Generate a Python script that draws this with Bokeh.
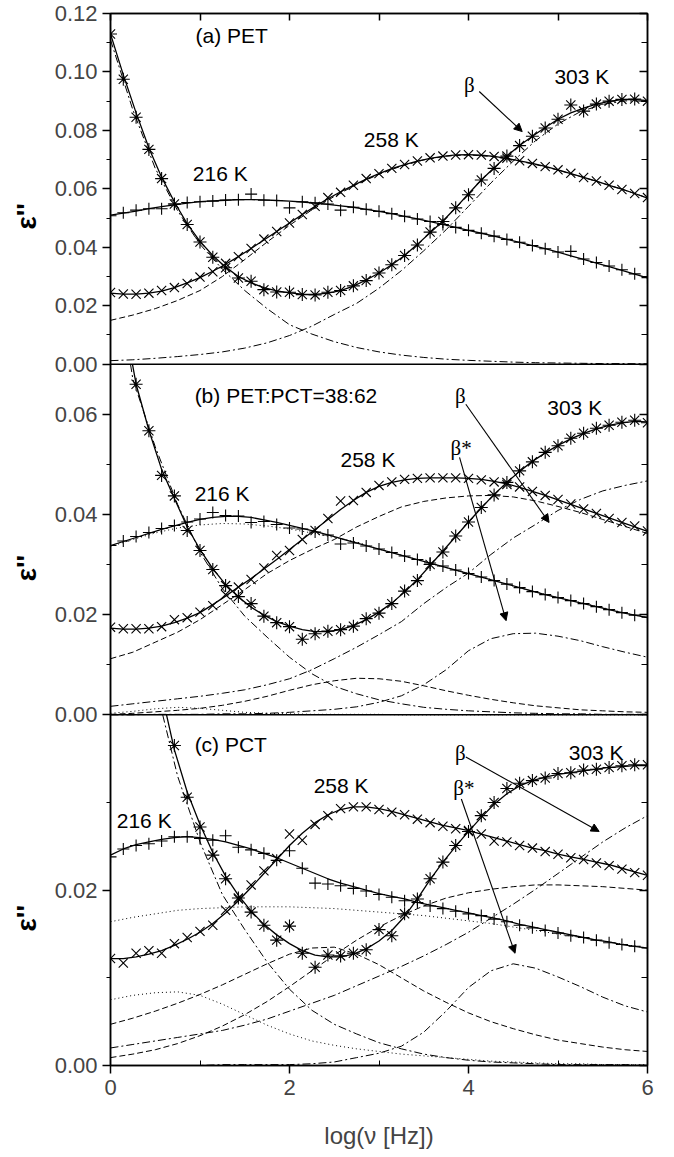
import math
from bokeh.plotting import figure
from bokeh.layouts import row
from bokeh.core.properties import value
from bokeh.models import (Range1d, LinearAxis, FixedTicker, CustomJSTickFormatter,
                          Span, Label, Arrow, NormalHead)
from bokeh.embed import file_html
from bokeh.resources import INLINE

# ---------------- data ----------------
x_pts = [0.0, 0.143, 0.286, 0.429, 0.571, 0.714, 0.857, 1.0, 1.143, 1.286, 1.429, 1.571,
         1.714, 1.857, 2.0, 2.143, 2.286, 2.429, 2.571, 2.714, 2.857, 3.0, 3.143, 3.286,
         3.429, 3.571, 3.714, 3.857, 4.0, 4.143, 4.286, 4.429, 4.571, 4.714, 4.857, 5.0,
         5.143, 5.286, 5.429, 5.571, 5.714, 5.857, 6.0]
x_comp = [0.0, 0.25, 0.5, 0.75, 1.0, 1.25, 1.5, 1.75, 2.0, 2.25, 2.5, 2.75, 3.0, 3.25,
          3.5, 3.75, 4.0, 4.25, 4.5, 4.75, 5.0, 5.25, 5.5, 5.75, 6.0]

# panel (a) PET
a303_fit = [0.113, 0.099, 0.086, 0.074, 0.064, 0.0555, 0.048, 0.042, 0.0372, 0.0332, 0.030, 0.0278, 0.0262, 0.0251, 0.0244, 0.024, 0.0239, 0.0243, 0.0252, 0.0267, 0.0288, 0.0312, 0.034, 0.0372, 0.041, 0.045, 0.049, 0.0535, 0.0583, 0.063, 0.0672, 0.0712, 0.0748, 0.078, 0.081, 0.0838, 0.086, 0.0876, 0.089, 0.0899, 0.0905, 0.0906, 0.0902]
a303_pts = [0.113, 0.0975, 0.0845, 0.0735, 0.0635, 0.0548, 0.0478, 0.0418, 0.0366, 0.0330, 0.0295, 0.0284, 0.0255, 0.0247, 0.0246, 0.0238, 0.0237, 0.0246, 0.0252, 0.0268, 0.0286, 0.0312, 0.0340, 0.0372, 0.0408, 0.0452, 0.0488, 0.0535, 0.0580, 0.0630, 0.0670, 0.0712, 0.0748, 0.0780, 0.0808, 0.0838, 0.0887, 0.0866, 0.0890, 0.0900, 0.0906, 0.0907, 0.0900]
a258_fit = [0.0243, 0.0240, 0.0240, 0.0243, 0.0250, 0.0262, 0.0278, 0.0296, 0.0318, 0.0342, 0.0368, 0.0396, 0.0425, 0.0454, 0.0483, 0.0512, 0.0540, 0.0566, 0.0590, 0.0612, 0.0633, 0.0652, 0.0669, 0.0683, 0.0695, 0.0704, 0.0711, 0.0716, 0.0717, 0.0715, 0.0711, 0.0704, 0.0696, 0.0687, 0.0677, 0.0665, 0.0652, 0.0639, 0.0626, 0.0612, 0.0599, 0.0584, 0.0568]
a258_pts = [0.0245, 0.0240, 0.0239, 0.0243, 0.0252, 0.0262, 0.0276, 0.0298, 0.0316, 0.0345, 0.0368, 0.0396, 0.0428, 0.0454, 0.0483, 0.0512, 0.0540, 0.0570, 0.0588, 0.0612, 0.0635, 0.0652, 0.0670, 0.0683, 0.0695, 0.0706, 0.0712, 0.0716, 0.0717, 0.0716, 0.0711, 0.0705, 0.0696, 0.0687, 0.0676, 0.0665, 0.0653, 0.0639, 0.0627, 0.0612, 0.0598, 0.0584, 0.0570]
a216_fit = [0.0510, 0.0517, 0.0524, 0.0532, 0.0539, 0.0545, 0.0551, 0.0556, 0.0559, 0.0561, 0.0563, 0.0563, 0.0562, 0.0560, 0.0558, 0.0555, 0.0551, 0.0547, 0.0542, 0.0537, 0.0530, 0.0523, 0.0515, 0.0506, 0.0497, 0.0488, 0.0478, 0.0468, 0.0458, 0.0448, 0.0438, 0.0427, 0.0417, 0.0406, 0.0395, 0.0383, 0.0371, 0.0359, 0.0346, 0.0334, 0.0321, 0.0308, 0.0295]
a216_pts = [0.0508, 0.0518, 0.0527, 0.0532, 0.0532, 0.0548, 0.0553, 0.0556, 0.0558, 0.0562, 0.0563, 0.0582, 0.0561, 0.0560, 0.0535, 0.0556, 0.0552, 0.0548, 0.0527, 0.0537, 0.0530, 0.0523, 0.0515, 0.0506, 0.0497, 0.0488, 0.0478, 0.0468, 0.0458, 0.0448, 0.0438, 0.0427, 0.0417, 0.0406, 0.0395, 0.0384, 0.0386, 0.0360, 0.0348, 0.0336, 0.0323, 0.0309, 0.0296]
a_cond = [0.111, 0.087, 0.067, 0.0525, 0.041, 0.0325, 0.0252, 0.019, 0.0135, 0.0103, 0.0077, 0.0057, 0.0042, 0.0031, 0.0023, 0.0017, 0.0013, 0.0010, 0.0007, 0.0005, 0.0004, 0.0003, 0.0002, 0.0002, 0.0001]
a_beta303 = [0.0012, 0.0015, 0.0020, 0.0026, 0.0033, 0.0042, 0.0055, 0.0073, 0.0098, 0.0130, 0.0170, 0.0208, 0.0260, 0.0320, 0.0388, 0.0460, 0.0540, 0.0620, 0.0695, 0.0765, 0.0822, 0.0864, 0.0889, 0.0901, 0.0900]
a_beta258 = [0.0150, 0.0168, 0.0190, 0.0218, 0.0252, 0.0300, 0.0358, 0.0418, 0.0475, 0.0528, 0.0574, 0.0615, 0.0650, 0.0678, 0.0699, 0.0712, 0.0716, 0.0711, 0.0699, 0.0683, 0.0664, 0.0642, 0.0619, 0.0595, 0.0569]

# panel (b) PET:PCT=38:62
b303_fit = [0.095, 0.080, 0.066, 0.0568, 0.0490, 0.0432, 0.0375, 0.0330, 0.0292, 0.0260, 0.0235, 0.0215, 0.0199, 0.0186, 0.0177, 0.0170, 0.0166, 0.0166, 0.0170, 0.0178, 0.0190, 0.0205, 0.0223, 0.0245, 0.0270, 0.0298, 0.0327, 0.0356, 0.0385, 0.0413, 0.0440, 0.0464, 0.0486, 0.0506, 0.0523, 0.0538, 0.0551, 0.0562, 0.0571, 0.0578, 0.0583, 0.0586, 0.0585]
b303_pts = [0.095, 0.080, 0.066, 0.0567, 0.0478, 0.0437, 0.0368, 0.0328, 0.0290, 0.0258, 0.0236, 0.0222, 0.0197, 0.0184, 0.0176, 0.0151, 0.0162, 0.0167, 0.0170, 0.0177, 0.0192, 0.0203, 0.0222, 0.0247, 0.0268, 0.0300, 0.0325, 0.0357, 0.0385, 0.0414, 0.0439, 0.0464, 0.0487, 0.0505, 0.0524, 0.0537, 0.0552, 0.0562, 0.0572, 0.0578, 0.0584, 0.0588, 0.0583]
b258_fit = [0.0173, 0.0171, 0.0171, 0.0173, 0.0177, 0.0184, 0.0193, 0.0204, 0.0220, 0.0237, 0.0255, 0.0272, 0.0291, 0.0310, 0.0330, 0.0350, 0.0370, 0.0390, 0.0410, 0.0428, 0.0444, 0.0456, 0.0464, 0.0469, 0.0472, 0.0473, 0.0473, 0.0473, 0.0472, 0.0470, 0.0466, 0.0461, 0.0454, 0.0446, 0.0438, 0.0429, 0.0420, 0.0411, 0.0402, 0.0393, 0.0384, 0.0375, 0.0366]
b258_pts = [0.0175, 0.0172, 0.0172, 0.0172, 0.0176, 0.0190, 0.0194, 0.0205, 0.0218, 0.0240, 0.0255, 0.0270, 0.0293, 0.0318, 0.0328, 0.0350, 0.0368, 0.0392, 0.0427, 0.0428, 0.0444, 0.0458, 0.0465, 0.0470, 0.0472, 0.0473, 0.0473, 0.0473, 0.0472, 0.0469, 0.0465, 0.0460, 0.0455, 0.0446, 0.0438, 0.0430, 0.0421, 0.0411, 0.0402, 0.0392, 0.0384, 0.0377, 0.0367]
b216_fit = [0.0338, 0.0346, 0.0354, 0.0362, 0.0370, 0.0377, 0.0384, 0.0390, 0.0394, 0.0396, 0.0396, 0.0394, 0.0389, 0.0384, 0.0378, 0.0372, 0.0366, 0.0359, 0.0352, 0.0345, 0.0338, 0.0331, 0.0324, 0.0317, 0.0310, 0.0303, 0.0296, 0.0289, 0.0282, 0.0275, 0.0268, 0.0261, 0.0254, 0.0247, 0.0240, 0.0234, 0.0228, 0.0222, 0.0216, 0.0210, 0.0204, 0.0199, 0.0194]
b216_pts = [0.0338, 0.0347, 0.0356, 0.0364, 0.0372, 0.0378, 0.0385, 0.0391, 0.0404, 0.0398, 0.0397, 0.0384, 0.0386, 0.0380, 0.0373, 0.0371, 0.0365, 0.0359, 0.0341, 0.0343, 0.0337, 0.0331, 0.0324, 0.0317, 0.0310, 0.0303, 0.0297, 0.0289, 0.0282, 0.0275, 0.0268, 0.0261, 0.0254, 0.0246, 0.0240, 0.0234, 0.0228, 0.0222, 0.0216, 0.0210, 0.0204, 0.0199, 0.0195]
b_cond = [0.095, 0.067, 0.0535, 0.0420, 0.0325, 0.0252, 0.0197, 0.0155, 0.0115, 0.0082, 0.0057, 0.0042, 0.0030, 0.0022, 0.0015, 0.0011, 0.0008, 0.0006, 0.0004, 0.0003, 0.0002, 0.0002, 0.0001, 0.0001, 0.0001]
b_dot216 = [0.0336, 0.0350, 0.0363, 0.0373, 0.0379, 0.0382, 0.0381, 0.0377, 0.0371, 0.0363, 0.0354, 0.0345, 0.0331, 0.0319, 0.0306, 0.0294, 0.0282, 0.0270, 0.0257, 0.0245, 0.0234, 0.0224, 0.0214, 0.0203, 0.0194]
b_dot216s = [0.0003, 0.0007, 0.0012, 0.0015, 0.0013, 0.0009, 0.0005, 0.0003, 0.0002, 0.0001, 0.0001, 0.0001, 0.0001, 0.0, 0.0, 0.0, 0.0, 0.0, 0.0, 0.0, 0.0, 0.0, 0.0, 0.0, 0.0]
b_dash258 = [0.0112, 0.0125, 0.0145, 0.0165, 0.0190, 0.0220, 0.0250, 0.0282, 0.0308, 0.0330, 0.0350, 0.0375, 0.0396, 0.0415, 0.0426, 0.0433, 0.0437, 0.0438, 0.0435, 0.0427, 0.0416, 0.0404, 0.0390, 0.0376, 0.0362]
b_dash258s = [0.0001, 0.0003, 0.0006, 0.0009, 0.0013, 0.0019, 0.0027, 0.0037, 0.0049, 0.0060, 0.0068, 0.0073, 0.0072, 0.0067, 0.0058, 0.0048, 0.0039, 0.0031, 0.0024, 0.0018, 0.0014, 0.0010, 0.0008, 0.0006, 0.0005]
b_dd303 = [0.0017, 0.0022, 0.0027, 0.0032, 0.0037, 0.0043, 0.0050, 0.0060, 0.0072, 0.0090, 0.0112, 0.0135, 0.0160, 0.0186, 0.0222, 0.0254, 0.0283, 0.0320, 0.0353, 0.0380, 0.0408, 0.0430, 0.0447, 0.0458, 0.0467]
b_dd303s = [0.0, 0.0, 0.0001, 0.0001, 0.0001, 0.0002, 0.0002, 0.0003, 0.0005, 0.0008, 0.0011, 0.0016, 0.0025, 0.0038, 0.0060, 0.0090, 0.0128, 0.0152, 0.0162, 0.0163, 0.0157, 0.0148, 0.0136, 0.0125, 0.0115]

# panel (c) PCT
c303_fit = [0.090, 0.075, 0.062, 0.051, 0.0425, 0.0360, 0.0312, 0.0275, 0.0243, 0.0216, 0.0194, 0.0176, 0.0161, 0.0149, 0.0139, 0.0131, 0.0126, 0.0124, 0.0124, 0.0127, 0.0133, 0.0142, 0.0154, 0.0170, 0.0190, 0.0212, 0.0232, 0.0250, 0.0267, 0.0283, 0.0298, 0.0310, 0.0319, 0.0325, 0.0329, 0.0332, 0.0334, 0.0336, 0.0338, 0.0340, 0.0341, 0.0342, 0.0342]
c303_pts = [0.090, 0.075, 0.062, 0.051, 0.0425, 0.0365, 0.0306, 0.0272, 0.0240, 0.0213, 0.0191, 0.0175, 0.0160, 0.0143, 0.0159, 0.0128, 0.0112, 0.0126, 0.0125, 0.0128, 0.0132, 0.0155, 0.0148, 0.0173, 0.0190, 0.0213, 0.0232, 0.0251, 0.0267, 0.0285, 0.0300, 0.0316, 0.0322, 0.0325, 0.0328, 0.0333, 0.0334, 0.0337, 0.0338, 0.0340, 0.0342, 0.0343, 0.0343]
c258_fit = [0.0122, 0.0122, 0.0124, 0.0127, 0.0131, 0.0137, 0.0144, 0.0152, 0.0162, 0.0174, 0.0188, 0.0203, 0.0219, 0.0235, 0.0251, 0.0265, 0.0277, 0.0286, 0.0292, 0.0295, 0.0295, 0.0293, 0.0290, 0.0286, 0.0282, 0.0278, 0.0274, 0.0271, 0.0268, 0.0264, 0.0260, 0.0256, 0.0252, 0.0248, 0.0245, 0.0241, 0.0238, 0.0235, 0.0232, 0.0229, 0.0225, 0.0221, 0.0217]
c258_pts = [0.0122, 0.0117, 0.0128, 0.0131, 0.0128, 0.0139, 0.0146, 0.0153, 0.0160, 0.0177, 0.0190, 0.0206, 0.0222, 0.0236, 0.0264, 0.0257, 0.0275, 0.0285, 0.0293, 0.0295, 0.0295, 0.0292, 0.0289, 0.0286, 0.0281, 0.0277, 0.0273, 0.0270, 0.0268, 0.0264, 0.0256, 0.0255, 0.0251, 0.0248, 0.0244, 0.0241, 0.0237, 0.0235, 0.0231, 0.0228, 0.0224, 0.0220, 0.0217]
c216_fit = [0.0240, 0.0247, 0.0252, 0.0255, 0.0258, 0.0260, 0.0261, 0.0260, 0.0258, 0.0255, 0.0251, 0.0247, 0.0242, 0.0237, 0.0231, 0.0225, 0.0219, 0.0213, 0.0208, 0.0204, 0.0200, 0.0196, 0.0193, 0.0190, 0.0186, 0.0183, 0.0180, 0.0177, 0.0174, 0.0171, 0.0168, 0.0165, 0.0161, 0.0158, 0.0155, 0.0152, 0.0149, 0.0146, 0.0143, 0.0141, 0.0138, 0.0136, 0.0134]
c216_pts = [0.0238, 0.0247, 0.0251, 0.0253, 0.0256, 0.0261, 0.0261, 0.0259, 0.0257, 0.0262, 0.0249, 0.0246, 0.0242, 0.0234, 0.0245, 0.0225, 0.0208, 0.0207, 0.0205, 0.0202, 0.0199, 0.0195, 0.0192, 0.0188, 0.0186, 0.0182, 0.0179, 0.0176, 0.0173, 0.0171, 0.0167, 0.0164, 0.0160, 0.0157, 0.0154, 0.0151, 0.0148, 0.0146, 0.0143, 0.0140, 0.0138, 0.0136, 0.0134]
c_cond = [0.075, 0.058, 0.0435, 0.0330, 0.0255, 0.0195, 0.0155, 0.0118, 0.0087, 0.0063, 0.0047, 0.0036, 0.0026, 0.0019, 0.0013, 0.0009, 0.0006, 0.0004, 0.0003, 0.0002, 0.0001, 0.0001, 0.0001, 0.0001, 0.0]
c_dot216 = [0.0164, 0.0169, 0.0173, 0.0177, 0.0179, 0.0180, 0.0181, 0.0181, 0.0181, 0.0180, 0.0179, 0.0177, 0.0175, 0.0173, 0.0171, 0.0168, 0.0165, 0.0162, 0.0158, 0.0154, 0.0150, 0.0146, 0.0142, 0.0138, 0.0134]
c_dot216s = [0.0075, 0.0080, 0.0083, 0.0084, 0.0080, 0.0070, 0.0058, 0.0046, 0.0036, 0.0028, 0.0023, 0.0019, 0.0016, 0.0013, 0.0011, 0.0009, 0.0007, 0.0005, 0.0004, 0.0003, 0.0002, 0.0002, 0.0001, 0.0001, 0.0001]
c_dash258 = [0.0009, 0.0013, 0.0018, 0.0025, 0.0034, 0.0045, 0.0058, 0.0073, 0.0090, 0.0108, 0.0126, 0.0143, 0.0158, 0.0171, 0.0182, 0.0191, 0.0197, 0.0201, 0.0204, 0.0206, 0.0206, 0.0205, 0.0204, 0.0202, 0.0200]
c_dash258s = [0.0047, 0.0054, 0.0062, 0.0071, 0.0081, 0.0092, 0.0104, 0.0116, 0.0127, 0.0134, 0.0135, 0.0127, 0.0115, 0.0100, 0.0085, 0.0072, 0.0060, 0.0050, 0.0042, 0.0035, 0.0029, 0.0025, 0.0021, 0.0018, 0.0016]
c_dd303 = [0.0020, 0.0024, 0.0028, 0.0032, 0.0036, 0.0040, 0.0046, 0.0053, 0.0062, 0.0071, 0.0080, 0.0091, 0.0102, 0.0113, 0.0125, 0.0138, 0.0152, 0.0168, 0.0184, 0.0201, 0.0219, 0.0237, 0.0255, 0.0271, 0.0285]
c_dd303s = [0.0, 0.0, 0.0, 0.0, 0.0, 0.0001, 0.0001, 0.0001, 0.0001, 0.0002, 0.0004, 0.0009, 0.0014, 0.0022, 0.0038, 0.0062, 0.0089, 0.0108, 0.0116, 0.0111, 0.0101, 0.0090, 0.0078, 0.0068, 0.0061]

# axis ticks / labels
x_major = [0, 2, 4, 6]
x_minor = [1, 3, 5]
x_top = [0, 1, 2, 3, 4, 5, 6]
a_ticks = [0.0, 0.02, 0.04, 0.06, 0.08, 0.10, 0.12]
a_minor = [0.01, 0.03, 0.05, 0.07, 0.09, 0.11]
b_ticks = [0.0, 0.02, 0.04, 0.06]
b_minor = [0.01, 0.03, 0.05]
c_ticks = [0.0, 0.02]
c_minor = [0.01, 0.03]
y_title = "ε''"

# annotations: (text, x, y) in each panel's units
texts = {
    "default": [("(a) PET", 0.95, 0.1126), ("216 K", 0.92, 0.0654), ("258 K", 2.83, 0.0768), ("303 K", 4.96, 0.0984)],
    "b": [("(b) PET:PCT=38:62", 0.94, 0.0637), ("216 K", 0.94, 0.0441), ("258 K", 2.57, 0.0510), ("303 K", 4.88, 0.0613)],
    "c": [("(c) PCT", 0.94, 0.0366), ("216 K", 0.07, 0.0280), ("258 K", 2.27, 0.0319), ("303 K", 5.12, 0.0357)],
}
greek = {
    "default": [("β", 3.95, 0.0956)],
    "b": [("β", 3.85, 0.0637), ("β*", 3.80, 0.0533)],
    "c": [("β", 3.85, 0.0356), ("β*", 3.83, 0.0317)],
}
arrows = {
    "default": [(4.12, 0.0933, 4.60, 0.0796)],
    "b": [(3.97, 0.0620, 4.90, 0.0384), (3.90, 0.0514, 4.42, 0.0188)],
    "c": [(3.97, 0.0352, 5.46, 0.0267), (3.92, 0.0304, 4.52, 0.0128)],
}
ylabel_pos = {"default": 0.0506, "b": 0.0293, "c": 0.0168}

# ---------------- figure ----------------
RA = (-0.24, 0.12)   # panel a occupies the top third
RB = (-0.07, 0.14)   # panel b the middle third
RC = (0.0, 0.12)     # panel c the bottom third
TOP = {"default": 0.12, "b": 0.07, "c": 0.04}
FRAME_H = 1052
B_TOP = 13
B_BOT = 72
SIDE_W = 50

p = figure(frame_width=537, frame_height=FRAME_H, x_range=Range1d(0, 6), y_range=Range1d(*RA),
           min_border_left=60, min_border_right=10, min_border_top=B_TOP, min_border_bottom=B_BOT,
           output_backend="svg", toolbar_location=None, x_axis_location=None, y_axis_location=None)
p.extra_y_ranges = {"b": Range1d(*RB), "c": Range1d(*RC)}
p.grid.visible = False
p.outline_line_color = "black"
p.outline_line_width = 1.5
p.background_fill_color = "white"

FONT = "Liberation Sans"


def to_a(v, r):
    return RA[0] + (v - r[0]) / (r[1] - r[0]) * (RA[1] - RA[0])


major = a_ticks + [to_a(v, RB) for v in b_ticks] + [to_a(v, RC) for v in c_ticks]
minor = a_minor + [to_a(v, RB) for v in b_minor] + [to_a(v, RC) for v in c_minor]

js = f"""
const A0={RA[0]}, A1={RA[1]}, B0={RB[0]}, B1={RB[1]}, C0={RC[0]}, C1={RC[1]};
const bb = {to_a(0.0, RB)};
let v;
if (tick > -1e-6) {{ v = tick; }}
else if (tick > bb - 1e-6) {{ v = B0 + (tick - A0) / (A1 - A0) * (B1 - B0); }}
else {{ v = C0 + (tick - A0) / (A1 - A0) * (C1 - C0); }}
if (Math.abs(v) < 1e-6) {{ v = 0; }}
return v.toFixed(2);
"""

yl = LinearAxis(ticker=FixedTicker(ticks=major, minor_ticks=minor),
                formatter=CustomJSTickFormatter(code=js))
yl.major_tick_out = 8
yl.major_tick_in = 0
yl.minor_tick_out = 4
yl.minor_tick_in = 0
yl.major_label_text_font = FONT
yl.major_label_text_font_size = "22px"
yl.major_label_standoff = 5
yl.axis_line_width = 1.5
yl.major_tick_line_width = 1.5
p.add_layout(yl, "left")

yr = LinearAxis(ticker=FixedTicker(ticks=major, minor_ticks=minor))
yr.major_tick_out = 0
yr.major_tick_in = 8
yr.minor_tick_out = 0
yr.minor_tick_in = 6
yr.major_label_text_font_size = "0px"
yr.axis_line_width = 1.5
yr.major_tick_line_width = 1.5
p.add_layout(yr, "right")

xt = LinearAxis(ticker=FixedTicker(ticks=x_top, minor_ticks=[]))
xt.major_tick_out = 0
xt.major_tick_in = 7
xt.major_label_text_font_size = "0px"
xt.axis_line_width = 1.5
xt.major_tick_line_width = 1.5
p.add_layout(xt, "above")

xb = LinearAxis(ticker=FixedTicker(ticks=x_major, minor_ticks=x_minor))
xb.major_tick_out = 8
xb.major_tick_in = 0
xb.minor_tick_out = 0
xb.minor_tick_in = 5
xb.major_label_text_font = FONT
xb.major_label_text_font_size = "22px"
xb.major_label_standoff = 6
xb.axis_label = "log(ν [Hz])"
xb.axis_label_text_font = FONT
xb.axis_label_text_font_size = "24px"
xb.axis_label_text_font_style = "normal"
xb.axis_label_standoff = 24
xb.axis_line_width = 1.5
xb.major_tick_line_width = 1.5
p.add_layout(xb, "below")

# panel separators
p.add_layout(Span(location=0, dimension="width", line_color="black", line_width=1.5))
p.add_layout(Span(location=0, dimension="width", line_color="black", line_width=1.5, y_range_name="b"))

DASHED = "6 3"
DASHDOT = "8 3 2 3"
DOTTED = "1 3"


def clip_line(xs, ys, top):
    ox, oy = [], []
    for i in range(len(xs)):
        if ys[i] <= top:
            if i > 0 and ys[i - 1] > top:
                x0, y0 = xs[i - 1], ys[i - 1]
                t = (y0 - top) / (y0 - ys[i])
                ox.append(x0 + t * (xs[i] - x0))
                oy.append(top)
            ox.append(xs[i])
            oy.append(ys[i])
    return ox, oy


def keep_pts(xs, ys, top):
    pairs = [(x, y) for x, y in zip(xs, ys) if y <= top]
    return [q[0] for q in pairs], [q[1] for q in pairs]


panels = [
    ("default",
     [(a_cond, DASHDOT), (a_beta303, DASHDOT), (a_beta258, DASHED)],
     [(a216_fit, a216_pts, "cross", 12), (a258_fit, a258_pts, "x", 13), (a303_fit, a303_pts, "asterisk", 13)]),
    ("b",
     [(b_cond, DASHDOT), (b_dot216, DOTTED), (b_dot216s, DOTTED), (b_dash258, DASHED),
      (b_dash258s, DASHED), (b_dd303, DASHDOT), (b_dd303s, DASHDOT)],
     [(b216_fit, b216_pts, "cross", 12), (b258_fit, b258_pts, "x", 13), (b303_fit, b303_pts, "asterisk", 13)]),
    ("c",
     [(c_cond, DASHDOT), (c_dot216, DOTTED), (c_dot216s, DOTTED), (c_dash258, DASHED),
      (c_dash258s, DASHED), (c_dd303, DASHDOT), (c_dd303s, DASHDOT)],
     [(c216_fit, c216_pts, "cross", 12), (c258_fit, c258_pts, "x", 13), (c303_fit, c303_pts, "asterisk", 13)]),
]

for rname, comps, series in panels:
    top = TOP[rname]
    for ys, dash in comps:
        cx, cy = clip_line(x_comp, ys, top)
        p.line(cx, cy, y_range_name=rname, line_color="black", line_width=1.0, line_dash=dash)
    for fit, pts, mk, sz in series:
        fx, fy = clip_line(x_pts, fit, top)
        p.line(fx, fy, y_range_name=rname, line_color="black", line_width=1.3)
        mx, my = keep_pts(x_pts, pts, top)
        p.scatter(mx, my, y_range_name=rname, marker=mk, size=sz, line_color="black",
                  fill_color=None, line_width=1.1)
    for txt, tx, ty in texts[rname]:
        p.add_layout(Label(x=tx, y=ty, y_range_name=rname, text=txt, text_font=FONT,
                           text_font_size="21px", text_align="left", text_baseline="middle",
                           text_color="black"))
    for txt, tx, ty in greek[rname]:
        p.add_layout(Label(x=tx, y=ty, y_range_name=rname, text=txt, text_font="Liberation Serif",
                           text_font_size="21px", text_align="left", text_baseline="middle",
                           text_color="black"))
    for x0, y0, x1, y1 in arrows[rname]:
        p.add_layout(Arrow(end=NormalHead(size=8, line_color="black", fill_color="black", line_width=1),
                           x_start=x0, y_start=y0, x_end=x1, y_end=y1, y_range_name=rname,
                           line_color="black", line_width=1.1))

# side strip carrying the three y-axis titles (shares the vertical ranges of the main plot)
side = figure(frame_width=SIDE_W, frame_height=FRAME_H, x_range=Range1d(0, 1), y_range=p.y_range,
              min_border_left=0, min_border_right=0, min_border_top=B_TOP, min_border_bottom=B_BOT,
              output_backend="svg", toolbar_location=None, x_axis_location=None, y_axis_location=None)
side.extra_y_ranges = p.extra_y_ranges
side.grid.visible = False
side.outline_line_color = None
for rname in ["default", "b", "c"]:
    side.text(x=[0.52], y=[ylabel_pos[rname]], text=[y_title], y_range_name=rname,
              angle=math.pi / 2, text_font=value(FONT), text_font_size="28px",
              text_font_style="bold", text_align="center", text_baseline="middle",
              text_color="black")

layout = row(side, p)
open("out.html", "w").write(file_html(layout, INLINE))
